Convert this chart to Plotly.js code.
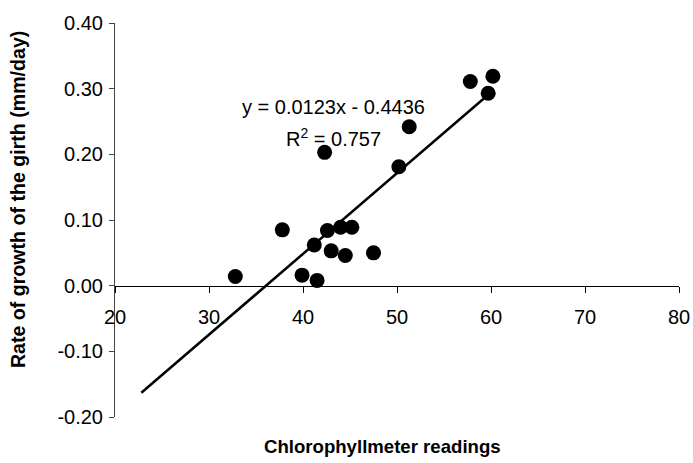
<!DOCTYPE html>
<html>
<head>
<meta charset="utf-8">
<script src="https://cdn.plot.ly/plotly-3.0.1.min.js"></script>
<style>html,body{margin:0;padding:0;background:#fff;}#chart{width:693px;height:463px;}</style>
</head>
<body>
<div id="chart"></div>
<script>
// Data
var chlorophyll = [32.8, 37.8, 39.9, 41.5, 41.2, 42.3, 42.6, 43.0, 44.0, 44.5, 45.2, 47.5, 50.2, 51.3, 57.8, 60.2, 59.7];
var girthRate   = [0.014, 0.085, 0.016, 0.008, 0.062, 0.203, 0.084, 0.053, 0.089, 0.046, 0.089, 0.050, 0.181, 0.242, 0.311, 0.319, 0.293];

// Linear trendline (as printed on the chart)
var slope = 0.0123, intercept = -0.4436;
var trendX = [22.8, 60.2];
var trendY = trendX.map(function (x) { return slope * x + intercept; });

var xTickVals = [20, 30, 40, 50, 60, 70, 80];
var yTickVals = [-0.2, -0.1, 0, 0.1, 0.2, 0.3, 0.4];
var yTickText = ["-0.20", "-0.10", "0.00", "0.10", "0.20", "0.30", "0.40"];

var eqText = "y = 0.0123x - 0.4436";
var r2Text = "R<sup>2</sup> = 0.757";
var xTitle = "Chlorophyllmeter readings";
var yTitle = "Rate of growth of the girth (mm/day)";

var font = "Arial, 'Liberation Sans', sans-serif";

var traces = [
  {
    x: trendX, y: trendY, type: "scatter", mode: "lines",
    line: {color: "#000", width: 2.5}, hoverinfo: "skip", showlegend: false
  },
  {
    x: chlorophyll, y: girthRate, type: "scatter", mode: "markers",
    marker: {color: "#000", size: 15}, showlegend: false
  }
];

var layout = {
  width: 693, height: 463,
  margin: {l: 115, r: 14, t: 23, b: 46},
  paper_bgcolor: "#fff", plot_bgcolor: "#fff",
  font: {family: font, size: 20, color: "#000"},
  showlegend: false,
  xaxis: {
    range: [20, 80], tickvals: xTickVals, ticktext: xTickVals.map(String),
    anchor: "free", position: 1 / 3,
    showline: true, linecolor: "#000", linewidth: 1,
    ticks: "outside", ticklen: 6, tickcolor: "#000",
    ticklabelstandoff: 7,
    showgrid: false, zeroline: false,
    tickfont: {family: font, size: 20, color: "#000"}
  },
  yaxis: {
    range: [-0.2, 0.4], tickvals: yTickVals, ticktext: yTickText,
    showline: true, linecolor: "#444", linewidth: 1,
    ticks: "outside", ticklen: 5, tickcolor: "#444",
    ticklabelstandoff: 2,
    showgrid: false, zeroline: false,
    tickfont: {family: font, size: 20, color: "#000"}
  },
  annotations: [
    {x: 43.2, y: 0.272, xref: "x", yref: "y", text: eqText, showarrow: false,
     xanchor: "center", yanchor: "middle", font: {family: font, size: 20, color: "#000"}},
    {x: 43.2, y: 0.226, xref: "x", yref: "y", text: r2Text, showarrow: false,
     xanchor: "center", yanchor: "middle", font: {family: font, size: 20, color: "#000"}},
    {x: 0.475, y: -0.075, xref: "paper", yref: "paper", text: "<b>" + xTitle + "</b>", showarrow: false,
     xanchor: "center", yanchor: "middle", font: {family: font, size: 18.6, color: "#000"}},
    {x: -0.172, y: 0.553, xref: "paper", yref: "paper", text: "<b>" + yTitle + "</b>", showarrow: false,
     textangle: -90, xanchor: "center", yanchor: "middle", font: {family: font, size: 19.6, color: "#000"}}
  ]
};

Plotly.newPlot("chart", traces, layout, {displayModeBar: false, staticPlot: true});
</script>
</body>
</html>
